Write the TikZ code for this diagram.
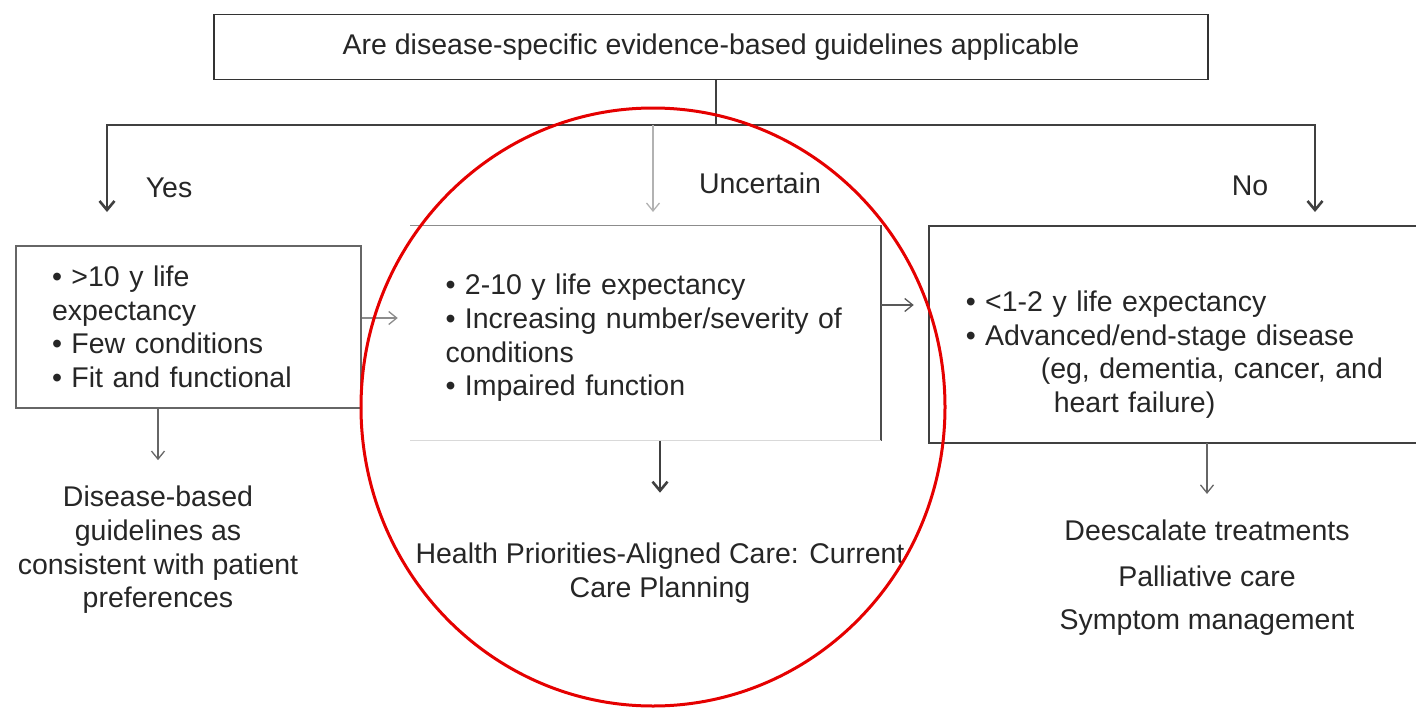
\documentclass[tikz,border=0pt]{standalone}
\usepackage{fontspec}
\setmainfont{Liberation Sans}
\usetikzlibrary{arrows.meta,positioning}

\tikzset{every node/.style={font=\fontsize{28.5}{33.6}\selectfont, text=black!85}}
\tikzstyle{box}=[draw=black!60, line width=1.5pt, inner ysep=0pt, align=left]
\tikzstyle{dark}=[draw=black!75, line width=2.6pt, -{Straight Barb[length=9pt,width=15pt]}]
\tikzstyle{faint}=[draw=black!45, line width=1.3pt, -{Straight Barb[length=8pt,width=13pt]}]
\tikzstyle{outcome}=[inner sep=0pt, align=center]

\begin{document}
\begin{tikzpicture}[x=1pt, y=-1pt]
    \useasboundingbox (0,0) rectangle (1416,709);
    \node [box, draw=black!80, minimum width=994pt, minimum height=65pt, align=center] (question) at (711,47)
        {Are disease-specific evidence-based guidelines applicable};

    % the three branches
    \coordinate (fork) at (716,125);
    \coordinate (yesend) at (107,212);
    \coordinate (uncend) at (653,212);
    \coordinate (noend) at (1315,212);
    \draw [draw=black!75, line width=2.6pt] ([xshift=5pt]question.south) -- (fork);
    \draw [dark] (fork) -- (fork -| yesend) -- (yesend);
    \draw [dark] (fork) -- (fork -| noend) -- (noend);
    \draw [faint, draw=black!30] (fork -| uncend) -- (uncend);
    \node (yeslbl) at (169,188) {Yes};
    \node (unclbl) at (760,183) {Uncertain};
    \node (nolbl) at (1250,186) {No};

    % boxes
    \node [box, minimum width=345pt, minimum height=162pt, text width=273pt, inner xsep=36pt] (yesbox) at (188.5,327)
        {• >10 y life\\ expectancy\\ • Few conditions\\ • Fit and functional};
    \node [box, draw=none, minimum width=469pt, minimum height=204pt, text width=400pt, inner xsep=34.5pt] (uncbox) at (645.5,338)
        {• 2-10 y life expectancy\\ • Increasing number/severity of\\ conditions\\ • Impaired function};
    \draw [draw=black!45, line width=1.3pt] ([yshift=10pt]uncbox.north west) -- ([yshift=10pt]uncbox.north east);
    \draw [draw=black!70, line width=1.5pt] ([yshift=10pt]uncbox.north east) -- (uncbox.south east);
    \draw [draw=black!15, line width=1.3pt] (uncbox.south east) -- (uncbox.south west);
    \node [box, draw=none, anchor=west, minimum height=175pt, text width=450pt, inner xsep=36pt] (nobox) at (929,354.5)
        {• <1-2 y life expectancy\\ • Advanced/end-stage disease\\ \hspace*{75pt}(eg, dementia, cancer, and\\ \hspace*{88pt}heart failure)};
    \draw [draw=black!75, line width=1.8pt] (nobox.south east) -- (nobox.south west)
        -- ([yshift=40pt]nobox.north west) -- ([yshift=40pt]nobox.north east);
    \draw [faint] ([yshift=9pt]yesbox.east) -- +(36,0);
    \draw [faint, draw=black!65] ([yshift=33pt]uncbox.east) -- +(33,0);

    % outcomes
    \node [outcome] (yesout) at (158,550)
        {Disease-based\\ guidelines as\\ consistent with patient\\ preferences};
    \node [outcome] (uncout) at (660,573)
        {Health Priorities-Aligned Care: Current\\ Care Planning};
    \node [outcome] (noout) at (1207,578)
        {Deescalate treatments\\[12pt] Palliative care\\[10pt] Symptom management};
    \draw [faint, draw=black!60, shorten >=26pt] (yesout.north |- yesbox.south) -- (yesout.north);
    \draw [dark, shorten >=50pt] (uncout.north |- uncbox.south) -- (uncout.north);
    \draw [faint, draw=black!60, shorten >=26pt] (noout.north |- nobox.south) -- (noout.north);

    % highlight
    \draw [draw=red!90!black, line width=3pt] (653,407) ellipse [x radius=292, y radius=299];
\end{tikzpicture}
\end{document}
